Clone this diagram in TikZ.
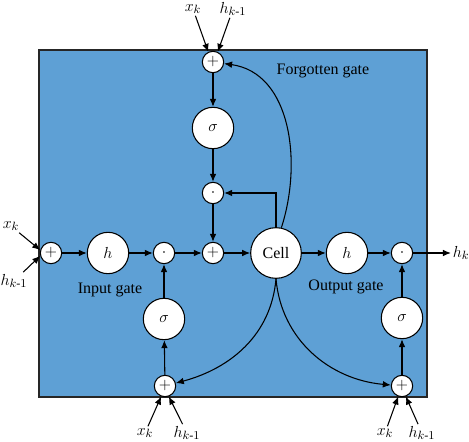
\documentclass[tikz,border=0pt]{standalone}
\usepackage{fontspec}
\setmainfont{Liberation Serif}
\usepackage{amsmath}
\usepackage{xcolor}
\usetikzlibrary{positioning,arrows.meta}
\definecolor{boxblue}{RGB}{94,160,213}

\begin{document}
\begin{tikzpicture}
		[x=0.75pt,y=-0.75pt,>={Latex[length=6pt,width=5pt]},line width=0.8pt,font=\fontsize{12}{14}\selectfont,
		op/.style={circle,draw=black,fill=white,inner sep=0pt,minimum size=16pt},
		gatefn/.style={circle,draw=black,fill=white,inner sep=0pt,minimum size=31pt},
		cellnode/.style={circle,draw=black,fill=white,inner sep=0pt,minimum size=38pt},
		lbl/.style={inner sep=1pt,font=\fontsize{13}{15}\selectfont}]
		\useasboundingbox (0,0) rectangle (469,442);
		\draw [fill=boxblue,draw=black!85] (39,50) rectangle (427,397);

		% forgotten gate
		\node [op] (fplus) at (213,62) {$+$};
		\node [gatefn] (fsig) at (213,128) {$\sigma$};
		\node [op] (fdot) at (213,193) {$\cdot$};
		\node [op] (cplus) at (213,253) {$+$};
		\node [cellnode] (cell) at (276,253) {Cell};

		% input gate
		\node [op] (lplus) at (51,253) {$+$};
		\node [gatefn] (ih) at (108,253) {$h$};
		\node [op] (idot) at (164,253) {$\cdot$};
		\node [gatefn] (isig) at (164,319) {$\sigma$};
		\node [op] (iplus) at (165,386) {$+$};

		% output gate
		\node [gatefn] (oh) at (347,253) {$h$};
		\node [op] (odot) at (402,253) {$\cdot$};
		\node [gatefn] (osig) at (402,318) {$\sigma$};
		\node [op] (oplus) at (402,386) {$+$};
		\node [lbl] (hk) at (461,253) {$h_k$};

		\node (ftext) at (323,71) {Forgotten gate};
		\node (itext) at (110,290) {Input gate};
		\node (otext) at (346,287) {Output gate};

		% inputs
		\node [lbl] (fx) at (193,9) {$x_k$};
		\node [lbl] (fh) at (233,9) {$h_{k\text{-}1}$};
		\node [lbl] (lx) at (11,226) {$x_k$};
		\node [lbl] (lh) at (14,281) {$h_{k\text{-}1}$};
		\node [lbl] (bx) at (145,433) {$x_k$};
		\node [lbl] (bh) at (187,433) {$h_{k\text{-}1}$};
		\node [lbl] (ox) at (385,433) {$x_k$};
		\node [lbl] (oh1) at (422,433) {$h_{k\text{-}1}$};

		\draw [->] (fx) -- (fplus.115);
		\draw [->] (fh) -- (fplus.65);
		\draw [->] (lx) -- (lplus.165);
		\draw [->] (lh) -- (lplus.195);
		\draw [->] (bx) -- (iplus.250);
		\draw [->] (bh) -- (iplus.290);
		\draw [->] (ox) -- (oplus.250);
		\draw [->] (oh1) -- (oplus.290);

		\draw [->] (fplus) -- (fsig);
		\draw [->] (fsig) -- (fdot);
		\draw [->] (fdot) -- (cplus);
		\draw [->] (cplus) -- (cell);
		\draw [->] (cell.north) |- (fdot);
		\draw [->] (cell.78) to [out=72,in=-8] (fplus);

		\draw [->] (lplus) -- (ih);
		\draw [->] (ih) -- (idot);
		\draw [->] (idot) -- (cplus);
		\draw [->] (iplus) -- (isig);
		\draw [->] (isig) -- (idot);
		\draw [->] (cell.south) to [out=-95,in=15] (iplus);

		\draw [->] (cell) -- (oh);
		\draw [->] (oh) -- (odot);
		\draw [->] (odot) -- (hk);
		\draw [->] (oplus) -- (osig);
		\draw [->] (osig) -- (odot);
		\draw [->] (cell.south) to [out=-85,in=175] (oplus);

	\end{tikzpicture}
\end{document}
